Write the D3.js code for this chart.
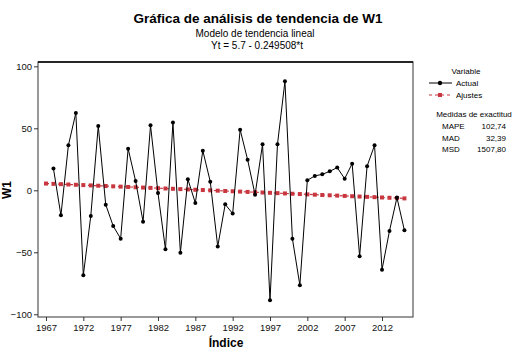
<!DOCTYPE html>
<html><head><meta charset="utf-8">
<script src="https://cdn.jsdelivr.net/npm/d3@7"></script>
<style>
body{margin:0;background:#fff;}
svg text{font-family:Tahoma,"Liberation Sans",Arial,sans-serif;}
</style></head>
<body>
<svg id="chart" width="523" height="355"></svg>
<script>
const years = d3.range(1967, 2016);
const actual = [null,17.5,-20.2,36.3,62.4,-68.5,-20.7,51.9,-11.6,-28.8,-39.0,33.6,7.5,-25.3,52.4,-2.2,-47.6,54.6,-50.3,8.9,-10.2,32.0,7.0,-45.4,-11.3,-18.8,48.9,24.7,-3.5,37.1,-88.7,37.1,87.9,-39.0,-76.6,8.1,11.6,12.9,15.3,18.3,9.4,21.5,-53.2,19.4,36.3,-64.0,-32.8,-5.9,-32.3];
const fits = [5.45,5.20,4.95,4.70,4.45,4.20,3.95,3.70,3.45,3.20,2.96,2.71,2.46,2.21,1.96,1.71,1.46,1.21,0.96,0.71,0.46,0.21,-0.04,-0.29,-0.54,-0.79,-1.04,-1.29,-1.54,-1.79,-2.03,-2.28,-2.53,-2.78,-3.03,-3.28,-3.53,-3.78,-4.03,-4.28,-4.53,-4.78,-5.03,-5.28,-5.53,-5.78,-6.03,-6.28,-6.53];
const xTicks = [1967,1972,1977,1982,1987,1992,1997,2002,2007,2012];
const yTicks = [-100,-50,0,50,100];
const titleText = "Gráfica de análisis de tendencia de W1";
const subtitle1 = "Modelo de tendencia lineal";
const subtitle2 = "Yt = 5.7 - 0.249508*t";
const measureNames = ["MAPE","MAD","MSD"];
const measureValues = ["102,74","32,39","1507,80"];

const svg = d3.select("#chart");
const L=38, R=413, T=62, B=317;
const x = d3.scaleLinear().domain([1965.93, 2016.15]).range([L, R]);
const y = d3.scaleLinear().domain([-102.2, 103.5]).range([B, T]);
const red = "#c8373f";

svg.append("text").attr("x",258).attr("y",23).attr("text-anchor","middle")
  .attr("font-weight","bold").attr("font-size",13.5).text(titleText);
svg.append("text").attr("x",255).attr("y",37).attr("text-anchor","middle")
  .attr("font-size",10).text(subtitle1);
svg.append("text").attr("x",257).attr("y",49).attr("text-anchor","middle")
  .attr("font-size",10).text(subtitle2);

// frame
svg.append("rect").attr("x",L).attr("y",T).attr("width",R-L).attr("height",B-T)
  .attr("fill","none").attr("stroke","#555").attr("stroke-width",1.2);
svg.append("line").attr("x1",L).attr("x2",R).attr("y1",T).attr("y2",T).attr("stroke","#000").attr("stroke-width",1.5);

const xAxis = svg.append("g").attr("transform",`translate(0,${B})`)
  .call(d3.axisBottom(x).tickValues(xTicks).tickFormat(d3.format("d")).tickSize(4).tickPadding(3));
xAxis.select(".domain").remove();
xAxis.selectAll("line").attr("stroke","#333");
xAxis.selectAll("text").attr("font-size",9.5).attr("fill","#111").style("font-family",'Tahoma,"Liberation Sans",Arial,sans-serif');

const yAxis = svg.append("g").attr("transform",`translate(${L},0)`)
  .call(d3.axisLeft(y).tickValues(yTicks).tickSize(4).tickPadding(2));
yAxis.select(".domain").remove();
yAxis.selectAll("line").attr("stroke","#333");
yAxis.selectAll("text").attr("font-size",9.5).attr("fill","#111").style("font-family",'Tahoma,"Liberation Sans",Arial,sans-serif');

svg.append("text").attr("x",226).attr("y",347).attr("text-anchor","middle")
  .attr("font-weight","bold").attr("font-size",12).text("Índice");
svg.append("text").attr("transform","translate(11,190) rotate(-90)").attr("text-anchor","middle")
  .attr("font-weight","bold").attr("font-size",12).text("W1");

// fit line
const fitData = years.map((yr,i)=>({yr, v:fits[i]}));
svg.append("path").datum(fitData)
  .attr("d", d3.line().x(d=>x(d.yr)).y(d=>y(d.v)))
  .attr("fill","none").attr("stroke",red).attr("stroke-width",1.2).attr("stroke-dasharray","3,3");
svg.selectAll(".fitpt").data(fitData).join("rect").attr("class","fitpt")
  .attr("x",d=>x(d.yr)-2).attr("y",d=>y(d.v)-2).attr("width",4).attr("height",4).attr("fill",red);

// actual line
const actData = years.map((yr,i)=>({yr, v:actual[i]})).filter(d=>d.v!==null);
svg.append("path").datum(actData)
  .attr("d", d3.line().x(d=>x(d.yr)).y(d=>y(d.v)))
  .attr("fill","none").attr("stroke","#000").attr("stroke-width",1);
svg.selectAll(".actpt").data(actData).join("circle").attr("class","actpt")
  .attr("cx",d=>x(d.yr)).attr("cy",d=>y(d.v)).attr("r",2).attr("fill","#000");

// legend
const lg = svg.append("g");
lg.append("text").attr("x",466).attr("y",74).attr("text-anchor","middle").attr("font-size",8).text("Variable");
lg.append("line").attr("x1",429).attr("x2",452).attr("y1",83).attr("y2",83).attr("stroke","#000");
lg.append("circle").attr("cx",440).attr("cy",83).attr("r",2.2).attr("fill","#000");
lg.append("text").attr("x",456).attr("y",86).attr("font-size",8).text("Actual");
lg.append("line").attr("x1",429).attr("x2",452).attr("y1",95).attr("y2",95).attr("stroke",red).attr("stroke-width",1.2).attr("stroke-dasharray","3,3");
lg.append("rect").attr("x",438).attr("y",93).attr("width",4).attr("height",4).attr("fill",red);
lg.append("text").attr("x",456).attr("y",98).attr("font-size",8).text("Ajustes");
lg.append("text").attr("x",474).attr("y",117).attr("text-anchor","middle").attr("font-size",8).text("Medidas de exactitud");
measureNames.forEach((n,i)=>{
  lg.append("text").attr("x",442).attr("y",129+i*11.5).attr("font-size",8).text(n);
  lg.append("text").attr("x",506).attr("y",129+i*11.5).attr("text-anchor","end").attr("font-size",8).text(measureValues[i]);
});
</script>
</body></html>
